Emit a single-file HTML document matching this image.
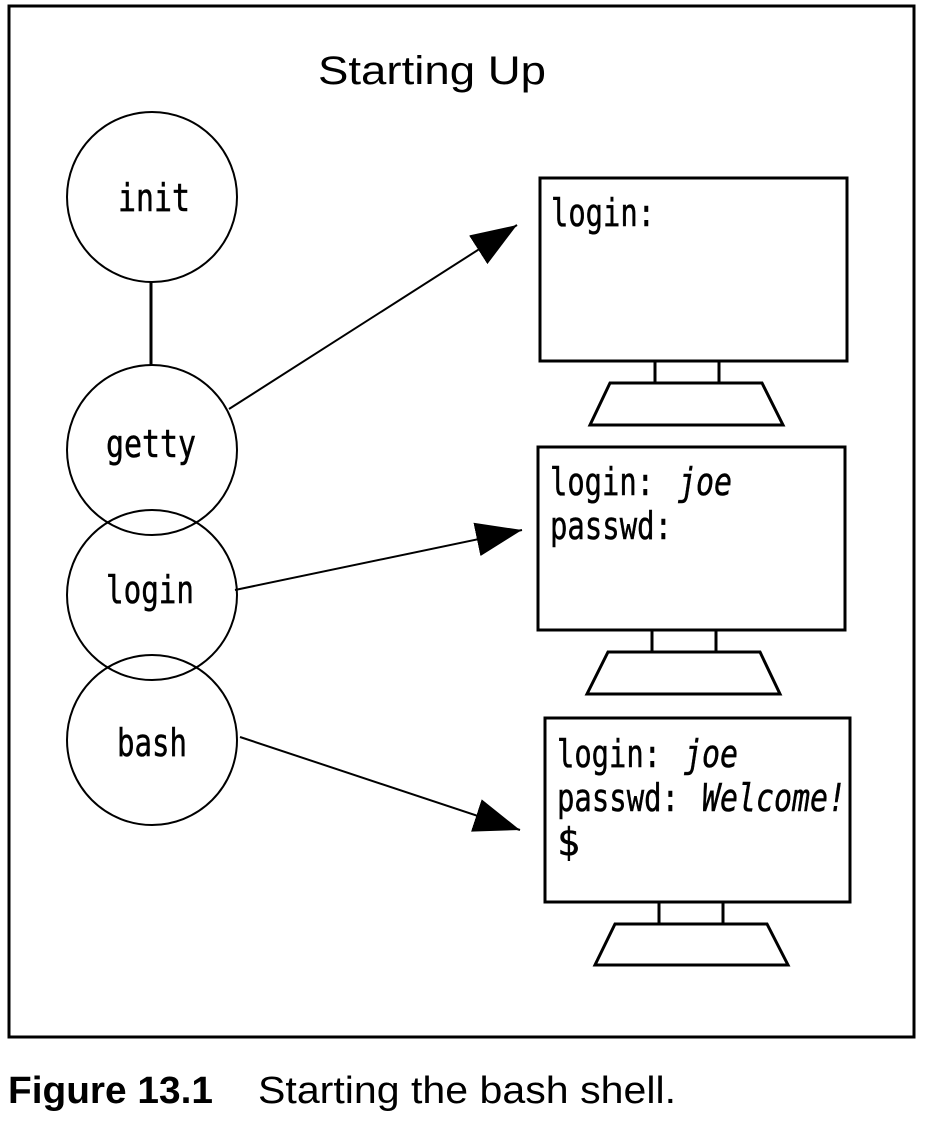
<!DOCTYPE html>
<html><head><style>html,body{margin:0;padding:0;background:#fff}</style></head><body>
<svg width="928" height="1123" viewBox="0 0 928 1123" xmlns="http://www.w3.org/2000/svg">
<defs><marker id="a" markerWidth="48" markerHeight="34" refX="46" refY="17" orient="auto" markerUnits="userSpaceOnUse"><path d="M0,0 L46,17 L0,34 Z" fill="#000"/></marker></defs>
<rect x="9" y="6" width="905" height="1031" fill="none" stroke="#000" stroke-width="3"/>
<text x="318" y="84" font-family="Liberation Sans, sans-serif" font-size="40" textLength="228" lengthAdjust="spacingAndGlyphs">Starting Up</text>
<g fill="none" stroke="#000" stroke-width="2">
<line x1="151" y1="282" x2="151" y2="366" stroke-width="3"/>
<circle cx="152" cy="197" r="85"/>
<circle cx="152" cy="450" r="85"/>
<circle cx="152" cy="595" r="85"/>
<circle cx="152" cy="740" r="85"/>
<line x1="229" y1="409" x2="517" y2="225" marker-end="url(#a)"/>
<line x1="235" y1="590" x2="522" y2="530" marker-end="url(#a)"/>
<line x1="240" y1="737" x2="520" y2="830" marker-end="url(#a)"/>
</g>
<g fill="none" stroke="#000" stroke-width="3">
<rect x="540" y="178" width="307" height="183"/><path d="M655,361V383M719,361V383M610,383H762L783,425H590Z"/>
<rect x="538" y="447" width="307" height="183"/><path d="M652,630V652M716,630V652M608,652H760L780,694H587Z"/>
<rect x="545" y="718" width="305" height="184"/><path d="M659,902V924M723,902V924M615,924H767L788,965H595Z"/>
</g>
<g font-family="DejaVu Sans Mono, Liberation Mono, monospace" font-size="38" stroke="#000" stroke-width="0.5">
<text x="118" y="211" textLength="72" lengthAdjust="spacingAndGlyphs">init</text>
<text x="106" y="457" textLength="90" lengthAdjust="spacingAndGlyphs">getty</text>
<text x="106" y="603" textLength="88" lengthAdjust="spacingAndGlyphs">login</text>
<text x="117" y="756" textLength="70" lengthAdjust="spacingAndGlyphs">bash</text>
<text x="551" y="226" textLength="104" lengthAdjust="spacingAndGlyphs">login:</text>
<text x="550" y="495" textLength="104" lengthAdjust="spacingAndGlyphs">login:</text>
<text x="678" y="495" font-style="italic" textLength="54" lengthAdjust="spacingAndGlyphs">joe</text>
<text x="550" y="539" textLength="122" lengthAdjust="spacingAndGlyphs">passwd:</text>
<text x="557" y="767" textLength="104" lengthAdjust="spacingAndGlyphs">login:</text>
<text x="684" y="767" font-style="italic" textLength="54" lengthAdjust="spacingAndGlyphs">joe</text>
<text x="557" y="811" textLength="122" lengthAdjust="spacingAndGlyphs">passwd:</text>
<text x="702" y="811" font-style="italic" textLength="144" lengthAdjust="spacingAndGlyphs">Welcome!</text>
<text x="557" y="855">$</text>
</g>
<text x="8" y="1103" font-family="Liberation Sans, sans-serif" font-size="38" font-weight="bold" textLength="205" lengthAdjust="spacingAndGlyphs">Figure 13.1</text>
<text x="258" y="1103" font-family="Liberation Sans, sans-serif" font-size="38" textLength="418" lengthAdjust="spacingAndGlyphs">Starting the bash shell.</text>
</svg>
</body></html>
